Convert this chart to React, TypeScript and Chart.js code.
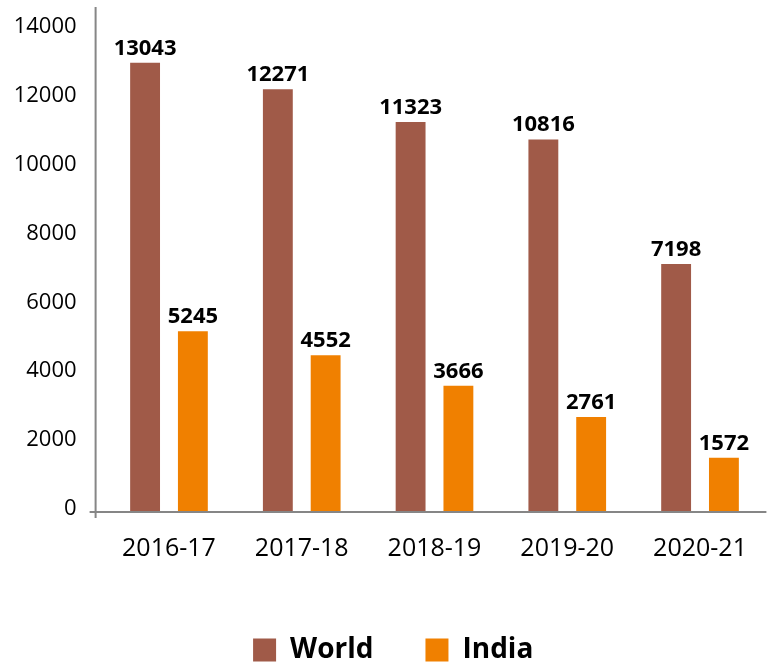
import React, { useEffect, useRef } from 'react';
import { Chart, registerables } from 'chart.js';

Chart.register(...registerables);

const categories = ['2016-17', '2017-18', '2018-19', '2019-20', '2020-21'];
const worldValues = [13043, 12271, 11323, 10816, 7198];
const indiaValues = [5245, 4552, 3666, 2761, 1572];
const seriesNames = ['World', 'India'];
const yTickValues = [0, 2000, 4000, 6000, 8000, 10000, 12000, 14000];
const yMax = 14660;

const FONT = "'Open Sans', sans-serif";
const WORLD_COLOR = '#A05A48';
const INDIA_COLOR = '#F08000';

export default function App() {
  const ref = useRef<HTMLCanvasElement>(null);

  useEffect(() => {
    if (!ref.current) return;

    const valueLabels = {
      id: 'valueLabels',
      afterDatasetsDraw(chart: any) {
        const ctx = chart.ctx;
        ctx.save();
        ctx.font = `bold 22px ${FONT}`;
        ctx.fillStyle = '#000';
        ctx.textAlign = 'center';
        ctx.textBaseline = 'alphabetic';
        chart.data.datasets.forEach((ds: any, i: number) => {
          const meta = chart.getDatasetMeta(i);
          meta.data.forEach((el: any, j: number) => {
            ctx.fillText(String(ds.data[j]), el.x, el.y - 8);
          });
        });
        ctx.restore();
      },
    };

    const axisLines = {
      id: 'axisLines',
      afterDraw(chart: any) {
        const { ctx, chartArea } = chart;
        const { left, right, top, bottom } = chartArea;
        const ax = left - 7;
        ctx.save();
        ctx.strokeStyle = '#868686';
        ctx.lineWidth = 2;
        ctx.beginPath();
        ctx.moveTo(ax - 6, bottom);
        ctx.lineTo(right, bottom);
        ctx.moveTo(ax, top);
        ctx.lineTo(ax, bottom + 6);
        ctx.stroke();
        ctx.restore();
      },
    };

    const legendShift = {
      id: 'legendShift',
      afterLayout(chart: any) {
        if (chart.legend) {
          chart.legend.left += 10;
          chart.legend.right += 10;
        }
      },
    };

    const chart = new Chart(ref.current, {
      type: 'bar',
      data: {
        labels: categories,
        datasets: [
          {
            label: seriesNames[0],
            data: worldValues,
            backgroundColor: WORLD_COLOR,
            borderWidth: 0,
            categoryPercentage: 0.72,
            barPercentage: 0.625,
          },
          {
            label: seriesNames[1],
            data: indiaValues,
            backgroundColor: INDIA_COLOR,
            borderWidth: 0,
            categoryPercentage: 0.72,
            barPercentage: 0.625,
          },
        ],
      },
      options: {
        responsive: false,
        animation: false,
        layout: { padding: { top: 7, right: 9.6, left: 0, bottom: 0 } },
        plugins: {
          tooltip: { enabled: false },
          legend: {
            position: 'bottom',
            labels: {
              boxWidth: 23,
              boxHeight: 23,
              padding: 52,
              color: '#000',
              font: { family: FONT, size: 28, weight: 'bold' },
            },
          },
        },
        scales: {
          x: {
            grid: { display: false, drawTicks: false },
            border: { display: false },
            ticks: {
              color: '#000',
              font: { family: FONT, size: 25 },
              padding: 22,
              maxRotation: 0,
            },
            afterFit(scale: any) {
              scale.height = 72;
            },
          },
          y: {
            min: 0,
            max: yMax,
            grid: { display: false, drawTicks: false },
            border: { display: false },
            ticks: {
              stepSize: 2000,
              color: '#000',
              font: { family: FONT, size: 22 },
              padding: 26,
              labelOffset: -3,
              callback: (v: any) => String(v),
            },
            afterBuildTicks(scale: any) {
              scale.ticks = yTickValues.map((v) => ({ value: v }));
            },
            afterFit(scale: any) {
              scale.width = 102.6;
              scale.paddingTop = 0;
              scale.paddingBottom = 0;
            },
          },
        },
      },
      plugins: [valueLabels, axisLines, legendShift],
    } as any);

    return () => chart.destroy();
  }, []);

  return (
    <div
      style={{
        position: 'absolute',
        left: 0,
        top: 0,
        width: 776,
        height: 665,
        overflow: 'hidden',
        background: '#fff',
      }}
    >
      <canvas ref={ref} width={776} height={674} style={{ display: 'block', width: 776, height: 674 }} />
    </div>
  );
}
